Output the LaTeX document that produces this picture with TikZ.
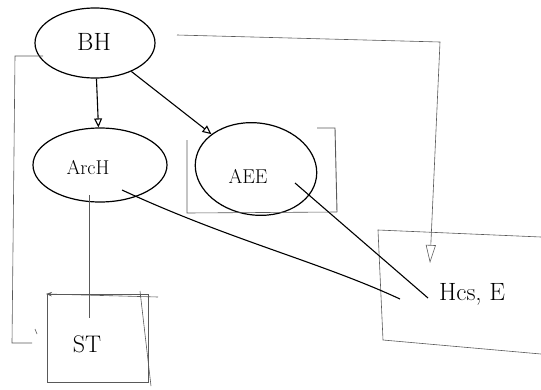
\documentclass[tikz,border=0pt]{standalone}
\usetikzlibrary{shapes.geometric,arrows.meta}
\begin{document}
\begin{tikzpicture}[x=1pt,y=-1pt,
  blob/.style={draw=black,line width=1.2pt,ellipse,inner sep=0pt},
  lbl/.style={font=\fontsize{20}{22}\selectfont},
  thin/.style={draw=black!65,line width=0.6pt},
  conn/.style={draw=black,line width=1.1pt},
  opentip/.style={-{Triangle[open,length=9pt,width=8pt]}}]
\useasboundingbox (0,0) rectangle (541,389);
% ellipses
\node[blob,minimum width=120pt,minimum height=70pt] (bh) at (95,43) {};
\node[font=\fontsize{25}{26}\selectfont] (bht) at (94,42) {BH};
\node[blob,minimum width=134pt,minimum height=74pt] (arch) at (100,165) {};
\node[lbl] (archt) at (88,168) {ArcH};
\node[blob,minimum width=122pt,minimum height=92pt,rotate=-8] (aee) at (256,169) {};
\node[lbl] (aeet) at (248,176) {AEE};
% ST box
\node[thin,draw,minimum width=101pt,minimum height=88pt] (st) at (98,338) {};
\node[font=\fontsize{24}{26}\selectfont] (stt) at (87,344) {ST};
% Hcs box text
\node[font=\fontsize{25}{27}\selectfont] (hcs) at (472,294) {Hcs, E};
% coordinates
\coordinate (bl1) at (43,56);
\coordinate (bl2) at (15,56);
\coordinate (bl3) at (12,343);
\coordinate (bl4) at (32,343);
\coordinate (tk1) at (35,329);
\coordinate (tk2) at (37,334);
\coordinate (a1) at (89,195);
\coordinate (a2) at (89,318);
\coordinate (s1) at (158,297);
\coordinate (s2) at (46,294);
\coordinate (s3) at (140,291);
\coordinate (s4) at (151,386);
\coordinate (e1) at (187,140);
\coordinate (e2) at (187,213);
\coordinate (e3) at (337,212);
\coordinate (e4) at (335,128);
\coordinate (e5) at (317,128);
\coordinate (t1) at (177,35);
\coordinate (t2) at (290,38);
\coordinate (t3) at (440,42);
\coordinate (t4) at (430,263);
\coordinate (h1) at (541,237);
\coordinate (h2) at (378,230);
\coordinate (h3) at (383,340);
\coordinate (h4) at (541,354);
\coordinate (c1) at (122,190);
\coordinate (c2) at (400,299);
\coordinate (d1) at (295,183);
\coordinate (d2) at (428,298);
% thin lines
\draw[thin] (bl1) -- (bl2) -- (bl3) -- (bl4);
\draw[thin] (tk1) -- (tk2);
\draw[thin] (a1) -- (a2);
\draw[thin,-{Stealth[length=6pt]}] (s1) -- (s2);
\draw[thin] (s3) -- (s4);
\draw[thin] (e1) -- (e2) -- (e3);
\draw[thin,line width=0.9pt] (e3) -- (e4) -- (e5);
\draw[thin,-{Triangle[open,length=18pt,width=10pt]}] (t1) -- (t2) -- (t3) -- (t4);
\draw[thin] (h1) -- (h2) -- (h3) -- (h4);
% main connectors
\draw[conn,opentip] (bh) -- (arch);
\draw[conn,opentip] (bh) -- (aee);
\draw[conn] (c1) .. controls (230,240) and (320,262) .. (c2);
\draw[conn] (d1) -- (d2);
\end{tikzpicture}
\end{document}
